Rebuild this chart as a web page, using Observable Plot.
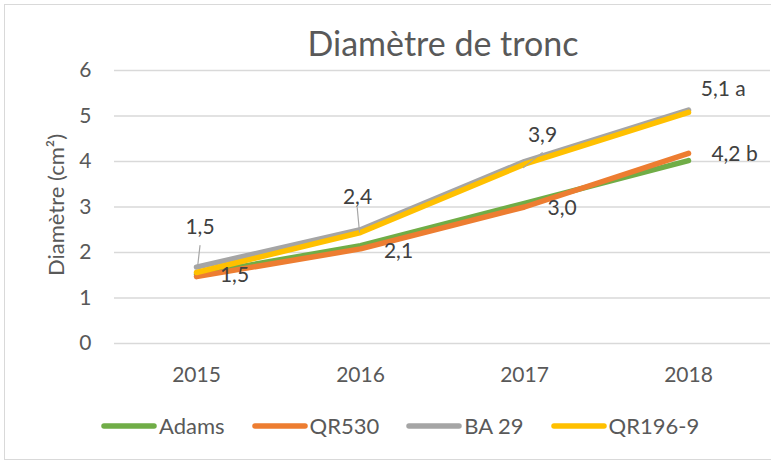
<!DOCTYPE html>
<html>
<head>
<meta charset="utf-8">
<script src="https://cdn.jsdelivr.net/npm/d3@7"></script>
<script src="https://cdn.jsdelivr.net/npm/@observablehq/plot@0.6"></script>
<style>
  html, body { margin: 0; padding: 0; background: #fff; }
  #chart { position: relative; width: 771px; height: 462px; overflow: hidden; font-family: Lato, "Open Sans", sans-serif; }
  #frame { position: absolute; left: 4px; top: 4px; width: 800px; height: 456px; border: 1.5px solid #d9d9d9; box-sizing: border-box; }
  #title { position: absolute; left: 443px; top: 26px; transform: translateX(-50%); font-size: 34px; line-height: 34px; font-weight: 400; color: #595959; white-space: nowrap; }
  #ytitle { position: absolute; left: 56px; top: 205px; transform: translate(-50%, -50%) rotate(-90deg); font-size: 22px; line-height: 22px; color: #595959; white-space: nowrap; }
  #plot { position: absolute; left: 0; top: 0; }
  #legend { position: absolute; left: 101px; top: 412px; display: flex; gap: 27px; align-items: center; font-size: 22px; color: #595959; }
  .item { display: flex; align-items: center; gap: 2px; white-space: nowrap; }
</style>
</head>
<body>
<div id="chart">
  <div id="frame"></div>
  <div id="plot"></div>
  <div id="title"></div>
  <div id="ytitle"></div>
  <div id="legend"></div>
</div>
<script>
// ---- data ----
const chartTitle = "Diamètre de tronc";
const yAxisTitle = "Diamètre (cm²)";
const years = [2015, 2016, 2017, 2018];
const seriesNames = ["Adams", "QR530", "BA 29", "QR196-9"];
const seriesColors = ["#70AD47", "#ED7D31", "#A5A5A5", "#FFC000"];
const adams  = [1.52, 2.15, 3.08, 4.02];
const qr530  = [1.47, 2.08, 3.00, 4.18];
const ba29   = [1.68, 2.50, 4.00, 5.13];
const qr1969 = [1.56, 2.44, 3.94, 5.08];
const yTicks = [0, 1, 2, 3, 4, 5, 6];
const labelSeries = ["QR196-9", "QR530", "QR196-9", "QR530", "QR196-9", "QR530", "QR196-9", "QR530"];
const labelYears  = [2015, 2015, 2016, 2016, 2017, 2017, 2018, 2018];
const labelTexts  = ["1,5", "1,5", "2,4", "2,1", "3,9", "3,0", "5,1 a", "4,2 b"];

// ---- build tables ----
const valuesBySeries = {"Adams": adams, "QR530": qr530, "BA 29": ba29, "QR196-9": qr1969};
const rows = seriesNames.flatMap(s => years.map((y, i) => ({series: s, year: y, value: valuesBySeries[s][i]})));
const labels = labelTexts.map((t, i) => ({
  text: t, year: labelYears[i],
  value: valuesBySeries[labelSeries[i]][years.indexOf(labelYears[i])]
}));

// label placement (pixels, layout only)
const labelOffsets = [[3.5, -45], [38, -1], [-3, -35], [38, 2.6], [18, -29], [37.6, 1.5], [34.7, -23], [46, 1]];
// leader lines: index of label, start offset dx/dy, length, rotation
const leaders = [
  {label: 0, dx: 1, dy: -5, length: 22, rotate: 6.5},
  {label: 2, dx: -1, dy: -0.5, length: 24.4, rotate: -5.4},
  {label: 4, dx: -1, dy: 3.4, length: 24, rotate: 51.3}
];
const lineShape = {draw(context, l) { context.moveTo(0, 0); context.lineTo(0, -l); }};

const marks = [
  Plot.ruleY(yTicks, {stroke: "#d9d9d9", strokeWidth: 1.3}),
  Plot.axisY({ticks: yTicks, tickFormat: d => String(d), tickSize: 0, tickPadding: 23, label: null, fontSize: 21}),
  Plot.axisX({ticks: years, tickFormat: d => String(d), tickSize: 0, tickPadding: 24, label: null, fontSize: 21}),
  Plot.line(rows, {x: "year", y: "value", z: "series", stroke: "series", strokeWidth: 5.5, strokeLinecap: "round", strokeLinejoin: "round"}),
  ...leaders.map(l => Plot.vector([labels[l.label]], {
    x: "year", y: "value", dx: l.dx, dy: l.dy, length: l.length, rotate: l.rotate,
    anchor: "start", shape: lineShape, stroke: "#A6A6A6", strokeWidth: 1.2
  })),
  ...labels.map((d, i) => Plot.text([d], {
    x: "year", y: "value", text: "text", dx: labelOffsets[i][0], dy: labelOffsets[i][1],
    fill: "#404040", fontSize: 21, textAnchor: "middle"
  }))
];

const plot = Plot.plot({
  width: 771,
  height: 400,
  marginLeft: 114,
  marginRight: 1,
  marginTop: 70,
  marginBottom: 57,
  style: {fontFamily: "Lato, 'Open Sans', sans-serif", fontSize: "21px", color: "#595959", background: "transparent", overflow: "visible"},
  x: {domain: [2014.5, 2018.5], axis: null},
  y: {domain: [0, 6], axis: null},
  color: {domain: seriesNames, range: seriesColors},
  marks
});
document.getElementById("plot").appendChild(plot);
document.getElementById("title").textContent = chartTitle;
document.getElementById("ytitle").textContent = yAxisTitle;

const legend = document.getElementById("legend");
seriesNames.forEach((s, i) => {
  const item = document.createElement("div");
  item.className = "item";
  item.innerHTML = `<svg width="56" height="8"><line x1="3" y1="4" x2="53" y2="4" stroke="${seriesColors[i]}" stroke-width="5.5" stroke-linecap="round"/></svg>`;
  const span = document.createElement("span");
  span.textContent = s;
  item.appendChild(span);
  legend.appendChild(item);
});
</script>
</body>
</html>
